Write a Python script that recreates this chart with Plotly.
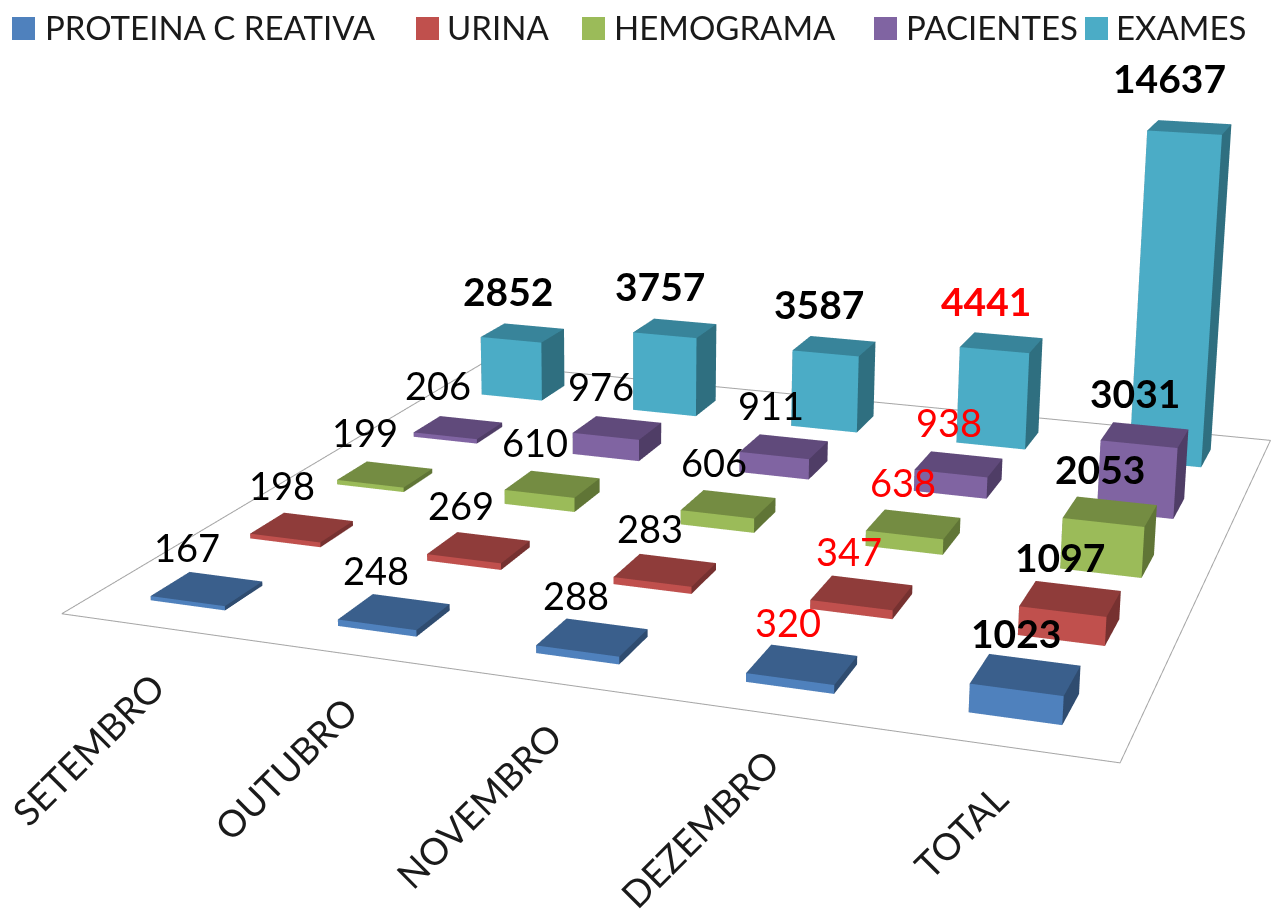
import plotly.graph_objects as go
import math
W=1278.;H=912.
categories=["SETEMBRO","OUTUBRO","NOVEMBRO","DEZEMBRO","TOTAL"]
series_names=["PROTEINA C REATIVA","URINA","HEMOGRAMA","PACIENTES","EXAMES"]
proteina=[167,248,288,320,1023]
urina=[198,269,283,347,1097]
hemograma=[199,610,606,638,2053]
pacientes=[206,976,911,938,3031]
exames=[2852,3757,3587,4441,14637]
series=[proteina,urina,hemograma,pacientes,exames]
zmax=14637.
# camera and floor geometry fitted to the reference perspective
eye=(0.07931,-0.95851,0.58624);cen=(-1.03912,5.00705,-3.66574);roll=0.00413
ay,az,s,t1,t2,bw,bd=0.54760,0.33562,0.26214,-0.16370,0.32230,0.40299,0.37531
R=12.
def X(U,V,h):return U+s*(V-2.5)+t1*h
def Y(U,V,h):return V+5*t2*h
fronts=["#4F81BD","#C0504D","#9BBB59","#8064A2","#4BACC6"]
tops=["#3A5F8C","#8F3C3A","#748C42","#604A7B","#38849A"]
sides=["#2F4C70","#763130","#607536","#4F3D66","#2F6F80"]
fig=go.Figure()
for j,vals in enumerate(series):
    xs,ys,zs,I,J,K,fc=[],[],[],[],[],[],[]
    for i,v in enumerate(vals):
        n=len(xs);h=v/zmax
        for a,b,t in [(-1,-1,0),(1,-1,0),(1,1,0),(-1,1,0),(-1,-1,1),(1,-1,1),(1,1,1),(-1,1,1)]:
            U=i+.5+a*bw/2;V=j+.5+b*bd/2;hh=h*t
            xs.append(X(U,V,hh));ys.append(Y(U,V,hh));zs.append(v*t)
        for q,col in [((0,1,5,4),fronts[j]),((1,2,6,5),sides[j]),((4,5,6,7),tops[j]),((0,3,7,4),sides[j]),((3,2,6,7),sides[j]),((0,1,2,3),sides[j])]:
            I+=[n+q[0],n+q[0]];J+=[n+q[1],n+q[2]];K+=[n+q[2],n+q[3]];fc+=[col,col]
    fig.add_trace(go.Mesh3d(x=xs,y=ys,z=zs,i=I,j=J,k=K,facecolor=fc,flatshading=True,name=series_names[j],hoverinfo="skip",
        lighting=dict(ambient=1,diffuse=0,specular=0,fresnel=0,roughness=1)))
fx=[0,5,5,0,0];fy=[0,0,5,5,0]
fig.add_trace(go.Scatter3d(x=[X(a,b,0) for a,b in zip(fx,fy)],y=[Y(a,b,0) for a,b in zip(fx,fy)],z=[0]*5,mode="lines",line=dict(color="#A6A6A6",width=2),hoverinfo="skip",showlegend=False))
ax_off=dict(visible=False,showspikes=False,autorange=False)
ann=[]
for j,vals in enumerate(series):
    for i,v in enumerate(vals):
        b=(j==4 or i==4)
        if v==zmax: xsh,ysh=-20,49
        elif i==4: xsh,ysh=-10,42
        elif j==4: xsh,ysh=-15,42
        else: xsh,ysh=-20+2*i+0.5*i*j,42
        ann.append(dict(x=X(i+.5,j+.5,v/zmax),y=Y(i+.5,j+.5,v/zmax),z=v,text=str(v),showarrow=False,xshift=xsh,yshift=ysh,
            font=dict(family="Lato",size=39 if b else 38,color="#FF0000" if i==3 else "black",weight="bold" if b else "normal")))
# paper-space text: legend and rotated category labels
def px(x):return x/W
def py(y):return 1-y/H
swatch_x=[12,416,582,874,1085]
label_x=[43,445,612,904,1114]
shapes=[];pann=[]
for k,name in enumerate(series_names):
    shapes.append(dict(type="rect",xref="paper",yref="paper",x0=px(swatch_x[k]),x1=px(swatch_x[k]+23),y0=py(40),y1=py(17),fillcolor=fronts[k],line=dict(width=0)))
    pann.append(dict(xref="paper",yref="paper",x=px(label_x[k]),y=py(27),text=name,showarrow=False,xanchor="left",yanchor="middle",font=dict(family="Lato",size=33,color="#1a1a1a")))
cat_cx=[87,285,478,699,960];cat_cy=[749,768,805,828,831]
for c,cx,cy in zip(categories,cat_cx,cat_cy):
    pann.append(dict(xref="paper",yref="paper",x=px(cx),y=py(cy),text=c,showarrow=False,textangle=-45,xanchor="center",yanchor="middle",font=dict(family="Lato",size=37,color="#1a1a1a")))
fig.update_layout(margin=dict(l=0,r=0,t=0,b=0),paper_bgcolor="white",showlegend=False,shapes=shapes,annotations=pann,
  scene=dict(domain=dict(x=[0,1],y=[0,1]),bgcolor="white",aspectmode="manual",aspectratio=dict(x=2*R/5,y=ay*2*R/5,z=3*az),
    xaxis=dict(range=[2.5-R,2.5+R],**ax_off),yaxis=dict(range=[2.5-R,2.5+R],**ax_off),zaxis=dict(range=[-zmax,2*zmax],**ax_off),
    camera=dict(eye=dict(x=eye[0],y=eye[1],z=eye[2]),center=dict(x=cen[0],y=cen[1],z=cen[2]),up=dict(x=math.sin(roll),y=0,z=math.cos(roll)),projection=dict(type="perspective")),
    annotations=ann))
fig.write_html("out.html",config=dict(displayModeBar=False),post_script="document.body.style.margin='0';Plotly.Plots.resize(document.querySelector('.plotly-graph-div'));")
